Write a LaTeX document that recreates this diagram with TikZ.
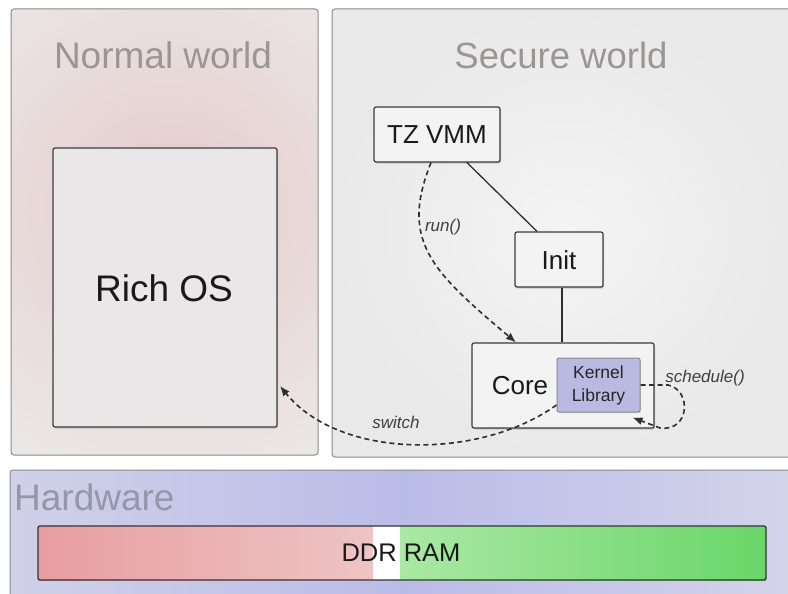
\documentclass[tikz,border=0pt]{standalone}
\usepackage{fontspec}
\setmainfont{Liberation Sans}
\usetikzlibrary{shadows,arrows.meta}
\definecolor{panelborder}{HTML}{8A8A8A}
\definecolor{titlegray}{HTML}{9A9696}
\definecolor{boxfill}{HTML}{F3F3F3}
\definecolor{richfill}{HTML}{E9E7E7}
\definecolor{boxborder}{HTML}{3C3C3C}
\definecolor{kernfill}{HTML}{B9B9E2}
\definecolor{arrowgray}{HTML}{2E2E2E}
\definecolor{normalout}{RGB}{236,232,232}
\definecolor{normalin}{RGB}{229,203,203}
\tikzset{
  panel/.style={draw=panelborder, line width=1pt, rounded corners=3pt},
  title/.style={text=titlegray, font=\fontsize{37}{40}\selectfont, inner sep=0pt},
  box/.style={draw=boxborder, line width=1.2pt, fill=boxfill, rounded corners=2pt,
    drop shadow={opacity=0.35, shadow xshift=1pt, shadow yshift=-1.5pt},
    inner sep=0pt},
  boxtext/.style={font=\fontsize{26}{30}\selectfont, text=black!90, inner sep=0pt},
  link/.style={draw=arrowgray, line width=1.3pt},
  dasharrow/.style={draw=arrowgray, line width=1.6pt, dash pattern=on 5pt off 3.5pt, -{Latex[length=10pt,width=8pt]}},
  call/.style={font=\fontsize{17}{20}\selectfont\itshape, text=black!75, inner sep=0pt}
}
\begin{document}
\begin{tikzpicture}[x=1pt,y=-1pt]
\useasboundingbox (0,0) rectangle (788,594);
\fill[white] (0,0) rectangle (788,594);
% panels
\begin{scope}
\clip[rounded corners=3pt] (11,9) rectangle (318,455);
\fill[normalout] (11,9) rectangle (318,455);
\shade[inner color=normalin, outer color=normalout] (170,210) circle (290);
\end{scope}
\draw[panel] (11,9) rectangle (318,455);
\shade[panel, inner color={rgb,255:red,244;green,244;blue,244}, outer color={rgb,255:red,233;green,233;blue,233}] (332,9) rectangle (800,457);
\shade[panel, left color={rgb,255:red,208;green,209;blue,232}, right color={rgb,255:red,212;green,212;blue,234}, middle color={rgb,255:red,186;green,188;blue,232}] (10,470) rectangle (800,604);
% titles
\node[title] (tnormal) at (163,55) {Normal world};
\node[title, font=\fontsize{36.5}{40}\selectfont] (tsecure) at (561,55) {Secure world};
\node[title, anchor=west, text={rgb,255:red,150;green,150;blue,170}] (thw) at (14,497) {Hardware};
% DDR RAM
\shade[left color={rgb,255:red,232;green,158;blue,160}, right color={rgb,255:red,238;green,196;blue,196}] (38,526) rectangle (373,580);
\fill[white] (373,526) rectangle (400,580);
\shade[left color={rgb,255:red,170;green,232;blue,164}, right color={rgb,255:red,106;green,214;blue,104}] (400,526) rectangle (766,580);
\node[draw={rgb,255:red,50;green,50;blue,60}, line width=1.3pt, rounded corners=2pt, minimum width=728pt, minimum height=54pt, inner sep=0pt] (ddr) at (402,553) {};
\node[boxtext, font=\fontsize{25.5}{30}\selectfont] (ddrtxt) at (401,553) {DDR RAM};
% boxes
\node[box, fill=richfill, minimum width=224pt, minimum height=279pt] (rich) at (165,287.5) {};
\node[boxtext, font=\fontsize{37}{40}\selectfont] (richtxt) at (164,288) {Rich OS};
\node[box, minimum width=126pt, minimum height=55pt] (tzvmm) at (437,134.5) {};
\node[boxtext] (tzvmmtxt) at (437,135) {TZ VMM};
\node[box, minimum width=88pt, minimum height=55pt] (init) at (559,259.5) {};
\node[boxtext] (inittxt) at (559,260) {Init};
\node[box, minimum width=182pt, minimum height=85pt] (core) at (563,385.5) {};
\node[boxtext] (coretxt) at (520,386) {Core};
\node[draw=panelborder, line width=1pt, fill=kernfill, rounded corners=2pt, minimum width=83pt, minimum height=54pt, inner sep=0pt,
  drop shadow={opacity=0.25, shadow xshift=1pt, shadow yshift=-1pt}] (kernel) at (598.5,385) {};
\node[font=\fontsize{17.5}{23}\selectfont, align=center, text=black!85, inner sep=0pt] (kerneltxt) at (598.5,385) {Kernel\\Library};
% solid links
\draw[link] ([xshift=30pt]tzvmm.south) -- ([xshift=-22pt]init.north);
\draw[link] ([xshift=3pt]init.south) -- ([xshift=3pt]init.south |- core.north);
% run()
\draw[dasharrow] ([xshift=-6pt]tzvmm.south) .. controls (400,240) and (430,270) .. ([xshift=-47pt]core.north);
\node[call] (runtxt) at (443,227) {run()};
% schedule()
\coordinate (schedend) at ([xshift=-8pt,yshift=-5pt]kernel.south east);
\draw[dasharrow] (kernel.east) -- (668,385) .. controls (692,390) and (690,432) .. (660,428) -- (schedend);
\node[call] (schedtxt) at (705,378) {schedule()};
% switch
\coordinate (swend) at (280,386);
\draw[dasharrow] ([yshift=-20pt]kernel.west) .. controls (480,460) and (340,460) .. (swend);
\node[call] (switchtxt) at (396,422) {switch};
\end{tikzpicture}
\end{document}
